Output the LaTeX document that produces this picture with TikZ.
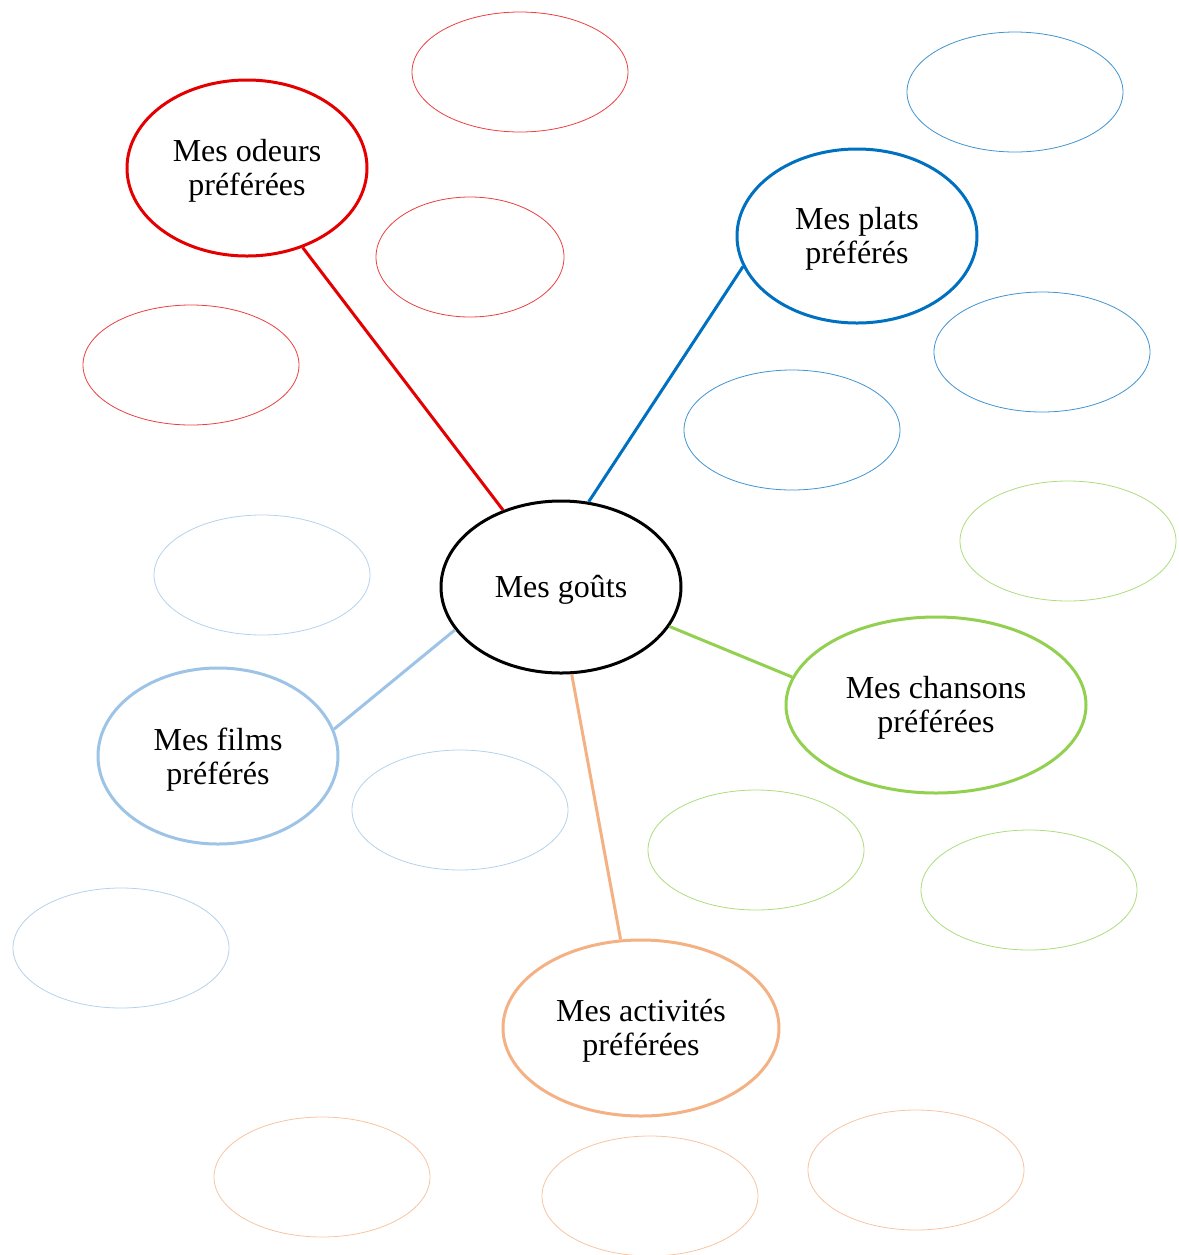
\documentclass[tikz,border=0pt]{standalone}
\usepackage{fontspec}
\setmainfont{Liberation Serif}
\usetikzlibrary{shapes.geometric}
\definecolor{cRed}{RGB}{228,0,0}
\definecolor{cBlue}{RGB}{0,112,192}
\definecolor{cGreen}{RGB}{146,208,80}
\definecolor{cLBlue}{RGB}{157,195,230}
\definecolor{cOrange}{RGB}{244,177,131}
\newcommand{\lowtxt}[1]{\raisebox{-1.6pt}[\height][\depth]{#1}}
\tikzset{
  bigell/.style={ellipse, draw=#1, line width=1.5pt, inner sep=0pt, align=center,
    font=\fontsize{16}{17}\selectfont, minimum height=88pt},
  smallell/.style={ellipse, draw=#1!75, line width=0.4pt, inner sep=0pt,
    minimum width=108pt, minimum height=60pt},
  link/.style={draw=#1, line width=1.5pt}
}
\begin{document}
\begin{tikzpicture}[x=0.5pt,y=-0.5pt]
\useasboundingbox (0,0) rectangle (1179,1255);
% central
\node[bigell=black, minimum width=120pt, minimum height=86pt] (c) at (561,587) {\lowtxt{Mes goûts}};
% main categories
\node[bigell=cRed, minimum width=120pt] (od) at (247,168) {\lowtxt{Mes odeurs}\\\lowtxt{préférées}};
\node[bigell=cBlue, minimum width=120pt, minimum height=87pt] (pl) at (857,236) {\lowtxt{Mes plats}\\\lowtxt{préférés}};
\node[bigell=cGreen, minimum width=150pt] (ch) at (936,705) {\lowtxt{Mes chansons}\\\lowtxt{préférées}};
\node[bigell=cLBlue, minimum width=120pt] (fi) at (218,756) {\lowtxt{Mes films}\\\lowtxt{préférés}};
\node[bigell=cOrange, minimum width=138pt] (ac) at (641,1028) {\lowtxt{Mes activités}\\\lowtxt{préférées}};
% connectors
\draw[link=cRed] (c.127.7) -- (od.305.9);
\draw[link=cBlue] (c.72.3) -- (pl.195.6);
\draw[link=cGreen] (c.-20) -- (ch.169.7);
\draw[link=cLBlue] (c.202) -- (fi.13.1);
\draw[link=cOrange] (c.277.3) -- (ac.103);
% small ellipses red
\node[smallell=cRed] (r1) at (520,72) {};
\node[smallell=cRed, minimum width=94pt] (r2) at (470,257) {};
\node[smallell=cRed] (r3) at (191,365) {};
% blue
\node[smallell=cBlue] (b1) at (1015,92) {};
\node[smallell=cBlue] (b2) at (1042,352) {};
\node[smallell=cBlue] (b3) at (792,430) {};
% green
\node[smallell=cGreen] (g1) at (1068,541) {};
\node[smallell=cGreen] (g2) at (756,850) {};
\node[smallell=cGreen] (g3) at (1029,890) {};
% light blue
\node[smallell=cLBlue] (l1) at (262,575) {};
\node[smallell=cLBlue] (l2) at (460,810) {};
\node[smallell=cLBlue] (l3) at (121,948) {};
% orange
\node[smallell=cOrange] (o1) at (322,1177) {};
\node[smallell=cOrange] (o2) at (650,1196) {};
\node[smallell=cOrange] (o3) at (916,1170) {};
\end{tikzpicture}
\end{document}
